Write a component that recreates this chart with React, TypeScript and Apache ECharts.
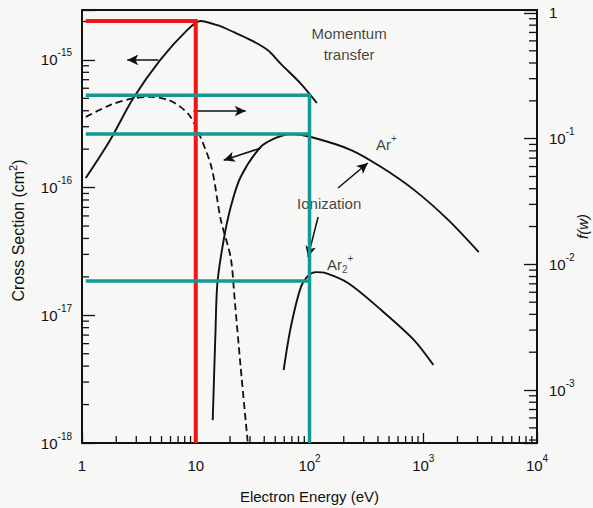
import React, { useEffect, useRef } from 'react';
import * as echarts from 'echarts';

// ---------- data ----------
// Momentum transfer cross section (cm^2) vs electron energy (eV)
const momentumE = [1.08, 1.77, 2.82, 4.88, 8.4, 11.0, 15.5, 21.6, 30.5, 43.1, 56.0, 84.1, 116];
const momentumSigma = [1.19e-16, 2.36e-16, 5.0e-16, 1.0e-15, 1.71e-15, 2.02e-15, 1.87e-15, 1.65e-15, 1.43e-15, 1.19e-15, 9.3e-16, 6.5e-16, 4.6e-16];

// Ar+ ionization cross section
const arPlusE = [14.1, 14.9, 15.5, 17.6, 20.3, 24.8, 37.2, 50.6, 68.5, 103, 232, 427, 830, 1664, 3074];
const arPlusSigma = [1.51e-18, 7.26e-18, 1.79e-17, 3.89e-17, 7.05e-17, 1.21e-16, 2.08e-16, 2.45e-16, 2.63e-16, 2.49e-16, 1.97e-16, 1.45e-16, 9.6e-17, 5.57e-17, 3.13e-17];

// Ar2+ ionization cross section
const ar2PlusE = [59.3, 68.5, 84.1, 99.0, 114, 139, 218, 427, 830, 1228];
const ar2PlusSigma = [3.73e-18, 8.09e-18, 1.67e-17, 2.07e-17, 2.18e-17, 2.14e-17, 1.79e-17, 1.1e-17, 6.4e-18, 4.08e-18];

// Electron energy distribution f(w) (right axis, dashed)
const fwE = [1.08, 1.77, 2.65, 3.99, 5.75, 7.34, 9.0, 11.0, 13.8, 16.6, 20.3, 22.0, 24.8, 28.6];
const fwValue = [0.149, 0.185, 0.207, 0.215, 0.203, 0.179, 0.149, 0.103, 0.0585, 0.0226, 0.01125, 0.00521, 0.00153, 0.00039];

// Guide lines (E in eV, sigma in cm^2)
const redGuide = [[1.08, 2.02e-15], [10, 2.02e-15], [10, 1e-18]];
const tealGuideTop = [[1.08, 5.3e-16], [100, 5.3e-16], [100, 1e-18]];
const tealGuideMid = [[1.08, 2.63e-16], [100, 2.63e-16]];
const tealGuideLow = [[1.08, 1.86e-17], [100, 1.86e-17]];

// Arrows: [E1, s1, E2, s2, curveness]
const arrows = [
  [4.69, 1.0e-15, 2.5, 1.0e-15, 0],
  [9.55, 3.98e-16, 27.5, 3.98e-16, 0],
  [37.2, 2.04e-16, 17.6, 1.64e-16, -0.3],
  [178, 9.93e-17, 326, 1.56e-16, 0.2],
  [119, 5.89e-17, 96.9, 2.86e-17, -0.15],
];

// Text annotations: [E, sigma, text]
const notes: [number, number, string][] = [
  [223, 1.33e-15, 'Momentum\ntransfer'],
  [474, 2.16e-16, 'Ar{sup|+}'],
  [149, 7.57e-17, 'Ionization'],
  [186, 2.52e-17, 'Ar{sub|2}{sup|+}'],
];

// Axis ranges
const X_MIN = 1;
const X_MAX = 10000;
const YL_MIN = 1e-18;
const YL_MAX = 2.46e-15;
const YR_MIN = 3.79e-4;
const YR_MAX = 1.056;
const MULT = [2, 3, 4, 5, 6, 7, 8, 9];
const xMinor = [1, 10, 100, 1000].flatMap((d) => MULT.map((m) => m * d));
const ylMinor = [1e-18, 1e-17, 1e-16, 1e-15].flatMap((d) => MULT.map((m) => m * d)).filter((v) => v < YL_MAX);
const yrMinor = [1e-4, 1e-3, 1e-2, 1e-1].flatMap((d) => MULT.map((m) => m * d)).filter((v) => v > YR_MIN && v < YR_MAX);

const INK = '#111111';
const FONT = '"Liberation Sans", Arial, Helvetica, sans-serif';
const RED = '#f01616';
const TEAL = '#119a94';

const supRich = {
  sup: { fontSize: 10, padding: [0, 0, 14, 0], fontFamily: FONT, color: INK },
};

const powLabel = (v: number, plainZero: boolean, plainOne: boolean) => {
  const e = Math.log10(v);
  const r = Math.round(e);
  if (Math.abs(e - r) > 1e-6) return '';
  if (r === 0 && plainZero) return '1';
  if (r === 1 && plainOne) return '10';
  return '10{sup|' + r + '}';
};

const tickSeries = (axis: 'x' | 'yl' | 'yr', values: number[], len: number) => ({
  type: 'custom',
  yAxisIndex: axis === 'yr' ? 1 : 0,
  silent: true,
  clip: false,
  z: 5,
  data: values.map((v) => (axis === 'x' ? [v, YL_MIN] : axis === 'yl' ? [X_MIN, v] : [X_MAX, v])),
  renderItem: (_p: any, api: any) => {
    const p = api.coord([api.value(0), api.value(1)]);
    let shape;
    if (axis === 'x') shape = { x1: p[0], y1: p[1], x2: p[0], y2: p[1] - len };
    else if (axis === 'yl') shape = { x1: p[0], y1: p[1], x2: p[0] + len, y2: p[1] };
    else shape = { x1: p[0], y1: p[1], x2: p[0] - len, y2: p[1] };
    return { type: 'line', shape, style: { stroke: INK, lineWidth: 1.3 } };
  },
});

const guide = (data: number[][], color: string, width: number) => ({
  type: 'line',
  data,
  symbol: 'none',
  silent: true,
  z: 10,
  lineStyle: { color, width, cap: 'butt', join: 'miter' },
});

const curve = (data: number[][], yAxisIndex: number, dashed: boolean) => ({
  type: 'line',
  yAxisIndex,
  data,
  symbol: 'none',
  smooth: 0.3,
  silent: true,
  lineStyle: { color: INK, width: dashed ? 1.8 : 1.9, type: dashed ? [7, 4] : 'solid' },
  z: 3,
});

export default function App() {
  const ref = useRef<HTMLDivElement>(null);
  useEffect(() => {
    document.body.style.margin = '0';
    const chart = echarts.init(ref.current!, null, { renderer: 'svg' });
    const option: any = {
      animation: false,
      backgroundColor: '#f7f7f5',
      textStyle: { fontFamily: FONT, color: INK },
      grid: {
        left: 82,
        right: 56,
        top: 10,
        bottom: 65,
        containLabel: false,
        outerBoundsMode: 'none',
        show: true,
        borderColor: INK,
        borderWidth: 1.8,
        backgroundColor: 'transparent',
      },
      xAxis: {
        type: 'log',
        logBase: 10,
        min: X_MIN,
        max: X_MAX,
        axisLine: { show: true, lineStyle: { color: INK, width: 1.8 } },
        axisTick: { show: true, inside: true, length: 10, lineStyle: { color: INK, width: 1.3 } },
        splitLine: { show: false },
        axisLabel: {
          formatter: (v: number) => powLabel(v, true, true),
          margin: 10,
          fontSize: 15,
          lineHeight: 24,
          color: INK,
          fontFamily: FONT,
          showMinLabel: true,
          showMaxLabel: true,
          rich: supRich,
        },
        name: 'Electron Energy (eV)',
        nameLocation: 'middle',
        nameGap: 46,
        nameMoveOverlap: false,
        nameTextStyle: { fontSize: 15, color: INK, fontFamily: FONT },
      },
      yAxis: [
        {
          type: 'log',
          logBase: 10,
          min: YL_MIN,
          max: YL_MAX,
          position: 'left',
          axisLine: { show: true, lineStyle: { color: INK, width: 1.8 } },
          axisTick: { show: true, inside: true, length: 13, lineStyle: { color: INK, width: 1.3 } },
          splitLine: { show: false },
          axisLabel: {
            formatter: (v: number) => powLabel(v, false, false),
            margin: 10,
            fontSize: 15,
            lineHeight: 24,
            color: INK,
            fontFamily: FONT,
            rich: supRich,
          },
          name: 'Cross Section (cm{sup|2})',
          nameLocation: 'middle',
          nameGap: 52,
          nameMoveOverlap: false,
          nameTextStyle: {
            fontSize: 16,
            color: INK,
            fontFamily: FONT,
            padding: [0, 8, 0, 0],
            rich: { sup: { fontSize: 11, padding: [0, 0, 12, 0], fontFamily: FONT, color: INK } },
          },
        },
        {
          type: 'log',
          logBase: 10,
          min: YR_MIN,
          max: YR_MAX,
          position: 'right',
          axisLine: { show: true, lineStyle: { color: INK, width: 1.8 } },
          axisTick: { show: true, inside: true, length: 13, lineStyle: { color: INK, width: 1.3 } },
          splitLine: { show: false },
          axisLabel: {
            formatter: (v: number) => powLabel(v, true, false),
            margin: 12,
            fontSize: 15,
            lineHeight: 24,
            color: INK,
            fontFamily: FONT,
            rich: supRich,
          },
          name: 'f(w)',
          nameLocation: 'middle',
          nameGap: 38,
          nameMoveOverlap: false,
          nameTextStyle: { fontSize: 15, color: INK, fontFamily: FONT, fontStyle: 'italic' },
        },
      ],
      series: [
        tickSeries('x', xMinor, 7),
        tickSeries('yl', ylMinor, 7),
        tickSeries('yr', yrMinor, 8),
        curve(momentumE.map((e, i) => [e, momentumSigma[i]]), 0, false),
        curve(arPlusE.map((e, i) => [e, arPlusSigma[i]]), 0, false),
        curve(ar2PlusE.map((e, i) => [e, ar2PlusSigma[i]]), 0, false),
        curve(fwE.map((e, i) => [e, fwValue[i]]), 1, true),
        guide(redGuide, RED, 4),
        guide(tealGuideTop, TEAL, 3.5),
        guide(tealGuideMid, TEAL, 3.5),
        guide(tealGuideLow, TEAL, 3.5),
        {
          type: 'scatter',
          data: notes.map((n) => ({ value: [n[0], n[1]], label: { formatter: n[2] } })),
          symbol: 'circle',
          symbolSize: 1,
          itemStyle: { color: 'rgba(0,0,0,0)' },
          silent: true,
          z: 8,
          label: {
            show: true,
            position: 'inside',
            fontSize: 15,
            lineHeight: 21,
            color: INK,
            fontFamily: FONT,
            rich: {
              sup: { fontSize: 10, padding: [0, 0, 12, 0], fontFamily: FONT, color: INK },
              sub: { fontSize: 10, padding: [10, 0, 0, 0], fontFamily: FONT, color: INK },
            },
          },
          markLine: {
            silent: true,
            symbol: ['none', 'arrow'],
            symbolSize: [8, 11],
            label: { show: false },
            lineStyle: { color: INK, width: 1.5, type: 'solid' },
            data: arrows.map((a) => [
              { coord: [a[0], a[1]], lineStyle: { curveness: a[4] } },
              { coord: [a[2], a[3]] },
            ]),
          },
        },
      ],
    };
    chart.setOption(option);
    return () => chart.dispose();
  }, []);
  return (
    <div
      ref={ref}
      style={{ position: 'absolute', left: 0, top: 0, width: 593, height: 508 }}
    />
  );
}
